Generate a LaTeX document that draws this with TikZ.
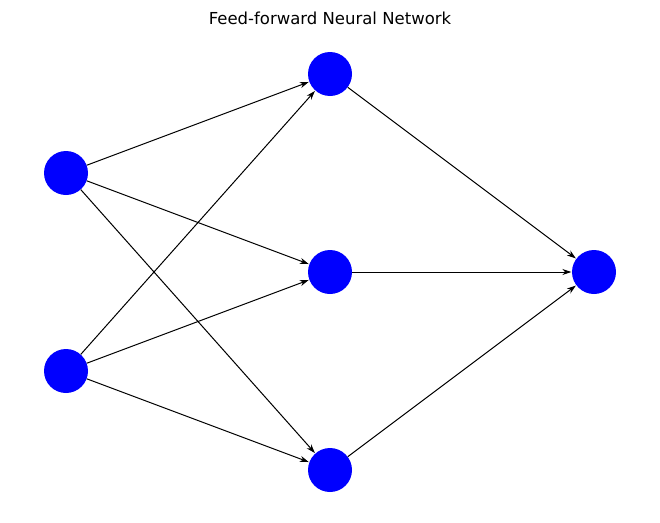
\documentclass[tikz,border=0pt]{standalone}
\usepackage{fontspec}
\setmainfont{DejaVu Sans}
\usetikzlibrary{arrows.meta}
\begin{document}
\begin{tikzpicture}[x=1pt,y=-1pt,
  neuron/.style={circle,fill={rgb,255:red,0;green,0;blue,255},draw=none,minimum size=44pt,inner sep=0pt},
  edge/.style={draw=black,line width=1pt,-{Stealth[length=9pt,width=6pt]},shorten >=0.5pt}]
\fill[white] (0,0) rectangle (660,522);
\useasboundingbox (0,0) rectangle (660,522);
\node[font=\fontsize{16.5}{20}\selectfont] (title) at (330,18) {Feed-forward Neural Network};
\node[neuron] (i1) at (66,173) {};
\node[neuron] (i2) at (66,371) {};
\node[neuron] (h1) at (330,74) {};
\node[neuron] (h2) at (330,272) {};
\node[neuron] (h3) at (330,470) {};
\node[neuron] (o) at (594,272) {};
\foreach \a in {i1,i2}{\foreach \b in {h1,h2,h3}{\draw[edge] (\a) -- (\b);}}
\foreach \a in {h1,h2,h3}{\draw[edge] (\a) -- (o);}
\end{tikzpicture}
\end{document}
